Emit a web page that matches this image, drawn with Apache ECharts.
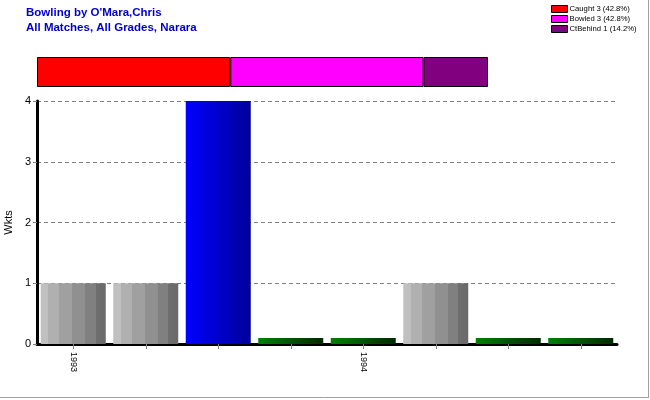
<!DOCTYPE html>
<html><head><meta charset="utf-8">
<script src="https://cdn.jsdelivr.net/npm/echarts@6/dist/echarts.min.js"></script>
<style>html,body{margin:0;padding:0;background:#fff}#c{width:650px;height:400px}</style>
</head><body><div id="c"></div>
<script>
const titleLines = ["Bowling by O'Mara,Chris", "All Matches, All Grades, Narara"];
const categories = ["1993", "", "", "", "1994", "", "", ""];
const wickets = [1, 1, 4, 0, 0, 1, 0, 0];
const dismissalNames = ["Caught 3 (42.8%)", "Bowled 3 (42.8%)", "CtBehind 1 (14.2%)"];
const dismissalValues = [3, 3, 1];
const dismissalColors = ["#ff0000", "#ff00ff", "#800080"];
const yTicks = [0, 1, 2, 3, 4];

const grayStripes = {type:'linear',x:0,y:0,x2:1,y2:0,colorStops:[
  {offset:0,color:'#c0c0c0'},{offset:0.117,color:'#c0c0c0'},
  {offset:0.117,color:'#b0b0b0'},{offset:0.286,color:'#b0b0b0'},
  {offset:0.286,color:'#a0a0a0'},{offset:0.485,color:'#a0a0a0'},
  {offset:0.485,color:'#909090'},{offset:0.684,color:'#909090'},
  {offset:0.684,color:'#808080'},{offset:0.847,color:'#808080'},
  {offset:0.847,color:'#6e6e6e'},{offset:1,color:'#6a6a6a'}]};
const blueGrad = {type:'linear',x:0,y:0,x2:1,y2:0,colorStops:[{offset:0,color:'#0000ff'},{offset:1,color:'#00009a'}]};
const greenGrad = {type:'linear',x:0,y:0,x2:1,y2:0,colorStops:[{offset:0,color:'#008000'},{offset:1,color:'#002a00'}]};
const maxW = Math.max(...wickets);

const chart = echarts.init(document.getElementById('c'), null, {renderer:'canvas'});
const total = dismissalValues.reduce((a,b)=>a+b,0);
const option = {
  animation:false,
  textStyle:{fontFamily:'Liberation Sans, Arial, sans-serif'},
  title:[
    {text:titleLines.join('\n'), left:26, top:5, padding:0, textStyle:{color:'#0000cc', fontSize:11.5, fontWeight:'bold', lineHeight:15, fontFamily:'Liberation Sans, Arial, sans-serif'}}
  ],
  legend:{
    data:dismissalNames, orient:'vertical', left:546, top:0, itemWidth:16, itemHeight:7, itemGap:2,
    icon:'rect', selectedMode:false,
    textStyle:{fontSize:7.7, color:'#000', padding:[0,0,0,-3]},
    itemStyle:{borderColor:'#000', borderWidth:1}
  },
  grid:[
    {left:37, top:57, width:451, height:30, outerBoundsMode:'none', containLabel:false},
    {left:37, top:101, right:33, bottom:56, outerBoundsMode:'none', containLabel:false}
  ],
  xAxis:[
    {gridIndex:0, type:'value', min:0, max:total, show:false},
    {gridIndex:1, type:'category', data:categories,
     axisLine:{lineStyle:{color:'#000', width:3}},
     axisTick:{show:true, alignWithLabel:true, interval:0, length:5, lineStyle:{color:'#808080'}},
     axisLabel:{interval:0, rotate:-90, fontSize:9, color:'#000', margin:8}}
  ],
  yAxis:[
    {gridIndex:0, type:'category', data:['d'], show:false},
    {gridIndex:1, type:'value', min:yTicks[0], max:yTicks[yTicks.length-1], interval:1,
     name:'Wkts', nameLocation:'middle', nameGap:23, nameRotate:90, nameTextStyle:{fontSize:11, color:'#000'},
     axisLine:{show:true, lineStyle:{color:'#000', width:3}},
     axisTick:{show:true, length:4, lineStyle:{color:'#808080'}},
     axisLabel:{fontSize:11, color:'#000', margin:6},
     splitLine:{show:true, lineStyle:{color:'#808080', type:[4,3], width:1}}}
  ],
  series:[
    ...dismissalNames.map((n,i)=>({
      name:n, type:'bar', stack:'d', xAxisIndex:0, yAxisIndex:0, barWidth:30,
      data:[dismissalValues[i]],
      itemStyle:{color:dismissalColors[i], borderColor:'#000', borderWidth:1}
    })),
    {type:'bar', xAxisIndex:1, yAxisIndex:1, barWidth:65, barMinHeight:6,
     data:wickets.map(v=>({value:v, itemStyle:{color: v===0?greenGrad:(v===maxW?blueGrad:grayStripes)}}))}
  ],
  graphic:[
    {type:'line', shape:{x1:648.5,y1:0,x2:648.5,y2:398}, style:{stroke:'#a0a0a0', lineWidth:1}},
    {type:'line', shape:{x1:0,y1:397.5,x2:649,y2:397.5}, style:{stroke:'#a0a0a0', lineWidth:1}}
  ]
};
chart.setOption(option);
</script></body></html>
